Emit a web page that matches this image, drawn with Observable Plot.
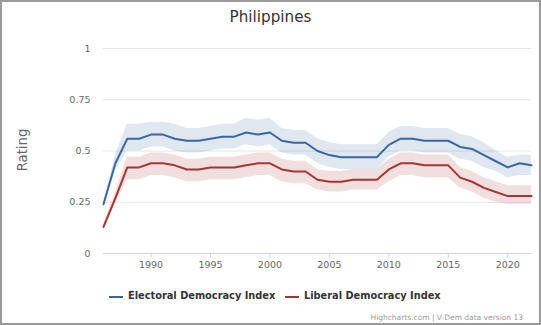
<!DOCTYPE html>
<html><head><meta charset="utf-8">
<script src="https://cdn.jsdelivr.net/npm/d3@7"></script>
<script src="https://cdn.jsdelivr.net/npm/@observablehq/plot@0.6"></script>
<style>
html,body{margin:0;padding:0;background:#fff;}
#wrap{position:relative;width:541px;height:325px;overflow:hidden;font-family:"DejaVu Sans",sans-serif;background:#fff;}
#chart{position:absolute;left:0;top:0;}
#border{position:absolute;left:0;top:0;width:541px;height:325px;box-sizing:border-box;border:2px solid #9a9a9a;pointer-events:none;}
#title{position:absolute;left:0;width:541px;top:7px;text-align:center;font-size:15.2px;color:#333;line-height:20px;}
#ylab{position:absolute;left:22px;top:150px;transform:translate(-50%,-50%) rotate(-90deg);font-size:13.2px;color:#666;white-space:nowrap;}
.leg{position:absolute;top:290px;font-size:9.8px;font-weight:bold;color:#333;line-height:12px;white-space:nowrap;}
.sw{position:absolute;top:296px;height:2px;width:14px;}
#cap{position:absolute;right:18px;top:313px;font-size:7.5px;color:#999;line-height:9px;white-space:nowrap;}
</style>
</head><body>
<div id="wrap">
  <div id="chart"></div>
  <div id="title">Philippines</div>
  <div id="ylab">Rating</div>
  <div class="sw" id="sw1"></div><div class="leg" id="leg1"></div>
  <div class="sw" id="sw2"></div><div class="leg" id="leg2"></div>
  <div id="cap">Highcharts.com | V-Dem data version 13</div>
  <div id="border"></div>
</div>
<script>
const years = [1986,1987,1988,1989,1990,1991,1992,1993,1994,1995,1996,1997,1998,1999,2000,2001,2002,2003,2004,2005,2006,2007,2008,2009,2010,2011,2012,2013,2014,2015,2016,2017,2018,2019,2020,2021,2022];
const seriesNames = ["Electoral Democracy Index", "Liberal Democracy Index"];
const seriesColors = ["#3a67a3", "#a83434"];
const edi = [0.24,0.44,0.56,0.56,0.58,0.58,0.56,0.55,0.55,0.56,0.57,0.57,0.59,0.58,0.59,0.55,0.54,0.54,0.50,0.48,0.47,0.47,0.47,0.47,0.53,0.56,0.56,0.55,0.55,0.55,0.52,0.51,0.48,0.45,0.42,0.44,0.43];
const ediHigh = [0.25,0.48,0.63,0.63,0.64,0.64,0.63,0.61,0.61,0.62,0.63,0.63,0.66,0.65,0.66,0.61,0.60,0.60,0.56,0.54,0.53,0.53,0.53,0.53,0.59,0.62,0.62,0.61,0.61,0.61,0.58,0.57,0.54,0.50,0.47,0.48,0.48];
const ediLow = [0.23,0.40,0.50,0.50,0.52,0.52,0.50,0.49,0.49,0.50,0.51,0.51,0.53,0.52,0.53,0.49,0.48,0.48,0.44,0.42,0.41,0.41,0.41,0.41,0.47,0.50,0.50,0.49,0.49,0.49,0.46,0.45,0.42,0.40,0.37,0.38,0.38];
const ldi = [0.13,0.27,0.42,0.42,0.44,0.44,0.43,0.41,0.41,0.42,0.42,0.42,0.43,0.44,0.44,0.41,0.40,0.40,0.36,0.35,0.35,0.36,0.36,0.36,0.41,0.44,0.44,0.43,0.43,0.43,0.37,0.35,0.32,0.30,0.28,0.28,0.28];
const ldiHigh = [0.14,0.30,0.47,0.47,0.49,0.49,0.48,0.46,0.46,0.47,0.47,0.47,0.48,0.49,0.49,0.46,0.45,0.45,0.41,0.40,0.40,0.41,0.41,0.41,0.46,0.49,0.49,0.48,0.48,0.48,0.42,0.40,0.37,0.35,0.33,0.33,0.33];
const ldiLow = [0.12,0.24,0.36,0.36,0.38,0.38,0.37,0.35,0.35,0.36,0.36,0.36,0.37,0.38,0.38,0.35,0.34,0.34,0.31,0.30,0.30,0.31,0.31,0.31,0.35,0.38,0.38,0.37,0.37,0.37,0.32,0.30,0.27,0.25,0.24,0.24,0.24];
const yTicks = [0, 0.25, 0.5, 0.75, 1];
const yTickLabels = ["0", "0.25", "0.5", "0.75", "1"];
const xTicks = [1990, 1995, 2000, 2005, 2010, 2015, 2020];

const rows = [];
[[edi, ediHigh, ediLow], [ldi, ldiHigh, ldiLow]].forEach(([v, hi, lo], s) => {
  years.forEach((yr, i) => rows.push({series: seriesNames[s], year: yr, value: v[i], hi: hi[i], lo: lo[i]}));
});

const chart = Plot.plot({
  width: 541,
  height: 280,
  marginLeft: 103,
  marginRight: 10,
  marginTop: 48,
  marginBottom: 27,
  style: {fontFamily: "DejaVu Sans, sans-serif", fontSize: "9.5px", background: "transparent"},
  x: {domain: [1986, 2022]},
  y: {domain: [0, 1]},
  color: {domain: seriesNames, range: seriesColors},
  marks: [
    Plot.ruleY(yTicks.slice(1), {stroke: "#e6e6e6", strokeWidth: 1}),
    Plot.areaY(rows, {x: "year", y1: "lo", y2: "hi", z: "series", fill: "series", fillOpacity: 0.16}),
    Plot.lineY(rows, {x: "year", y: "value", z: "series", stroke: "series", strokeWidth: 2}),
    Plot.ruleY([0], {stroke: "#ccd6eb", strokeWidth: 1}),
    Plot.axisX({ticks: xTicks, tickFormat: d => String(d), tickSize: 5, tickPadding: 3, stroke: "#ccd6eb", fill: "#666", label: null}),
    Plot.axisY({ticks: yTicks, tickFormat: (d, i) => yTickLabels[yTicks.indexOf(d)], tickSize: 0, tickPadding: 13, fill: "#666", label: null})
  ]
});
document.getElementById("chart").appendChild(chart);

document.getElementById("leg1").textContent = seriesNames[0];
document.getElementById("leg2").textContent = seriesNames[1];
document.getElementById("sw1").style.background = seriesColors[0];
document.getElementById("sw2").style.background = seriesColors[1];
document.getElementById("sw1").style.left = "109px";
document.getElementById("leg1").style.left = "128px";
document.getElementById("sw2").style.left = "285px";
document.getElementById("leg2").style.left = "304px";
</script>
</body></html>
